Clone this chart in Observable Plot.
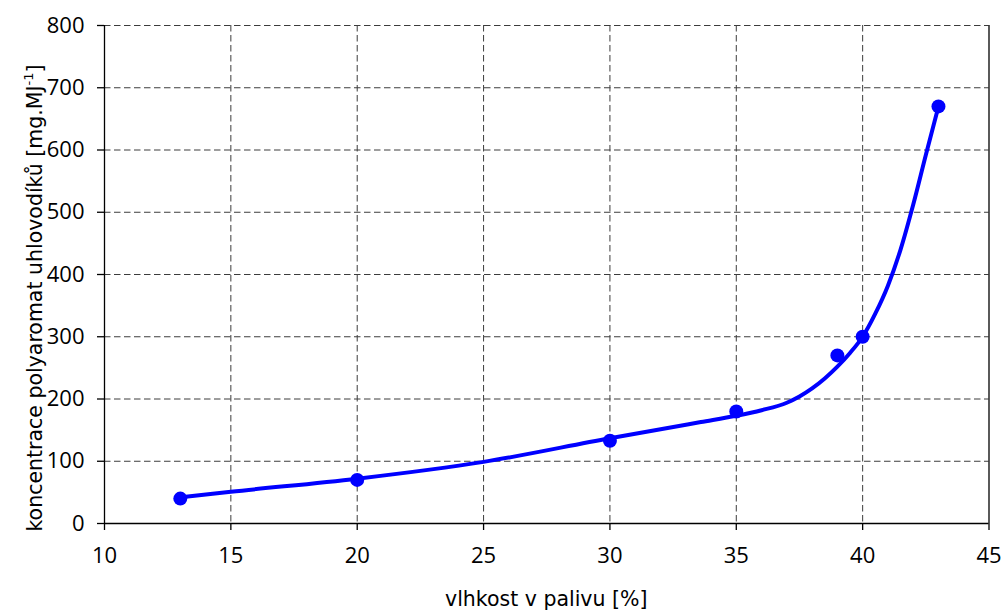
<!DOCTYPE html>
<html><head><meta charset="utf-8">
<script src="https://cdn.jsdelivr.net/npm/d3@7"></script>
<script src="https://cdn.jsdelivr.net/npm/@observablehq/plot@0.6"></script>
<style>body{margin:0;background:#fff}</style>
</head><body><div id="chart"></div>
<script>
// measured points
const moisture = [13, 20, 30, 35, 39, 40, 43];
const concentration = [40, 70, 133, 180, 270, 300, 670];
// smoothed trend curve
const trendX = [13, 15, 20, 25, 30, 33.6, 35, 36, 37, 37.5, 38, 38.5, 39, 39.5, 40, 40.5, 41, 41.5, 42, 42.5, 43];
const trendY = [42, 51, 72, 99, 137, 163, 173, 182, 194, 204, 217, 233, 252, 274, 300, 337, 382, 440, 512, 592, 670];
// tick labels
const xTicks = [10, 15, 20, 25, 30, 35, 40, 45];
const yTicks = [0, 100, 200, 300, 400, 500, 600, 700, 800];
// titles
const xTitle = "vlhkost v palivu [%]";
const yTitleMain = "koncentrace polyaromat uhlovodíků [mg.MJ";
const yTitleSup = "-1";
const yTitleEnd = "]";

const points = moisture.map((x, i) => ({x, y: concentration[i]}));
const trend = trendX.map((x, i) => ({x, y: trendY[i]}));

const font = "'Open Sans', 'Noto Sans', sans-serif";
const titleFont = "'DejaVu Sans', sans-serif";
const gridStyle = {stroke: "#3c3c3c", strokeOpacity: 1, strokeDasharray: "6.5,3.5", strokeWidth: 1};

const chart = Plot.plot({
  width: 1003,
  height: 612,
  marginLeft: 104,
  marginRight: 14.5,
  marginTop: 25,
  marginBottom: 89,
  style: {fontFamily: font, fontSize: "22px", color: "#000", background: "#fff", overflow: "visible"},
  x: {domain: [10, 45], label: null},
  y: {domain: [0, 800], label: null},
  marks: [
    Plot.gridX(xTicks.filter(t => t > 10 && t < 45), gridStyle),
    Plot.gridY(yTicks.filter(t => t > 0), gridStyle),
    Plot.ruleX([10, 45], {stroke: "#000", strokeWidth: 1.3}),
    Plot.ruleY([0], {stroke: "#000", strokeWidth: 1.3}),
    Plot.axisX(xTicks, {tickSize: 7, tickPadding: 17, label: null, stroke: "#000", strokeWidth: 1.3}),
    Plot.axisY(yTicks, {tickSize: 7, tickPadding: 13, label: null, stroke: "#000", strokeWidth: 1.3}),
    Plot.line(trend, {x: "x", y: "y", curve: "monotone-x", stroke: "#0000ff", strokeWidth: 4}),
    Plot.dot(points, {x: "x", y: "y", r: 7, fill: "#0000ff"})
  ]
});

const svg = d3.select(chart);
const xr = chart.scale("x").range;
const yr = chart.scale("y").range;
svg.append("text")
  .attr("x", (xr[0] + xr[1]) / 2)
  .attr("y", 606)
  .attr("text-anchor", "middle")
  .attr("font-family", titleFont)
  .attr("font-size", 20.5)
  .attr("fill", "#000")
  .text(xTitle);

const yt = svg.append("text")
  .attr("transform", `translate(42,${(yr[0] + yr[1]) / 2 + 24}) rotate(-90)`)
  .attr("text-anchor", "middle")
  .attr("font-family", titleFont)
  .attr("font-size", 20.5)
  .attr("fill", "#000");
yt.append("tspan").text(yTitleMain);
yt.append("tspan").attr("dy", -9).attr("font-size", 13).text(yTitleSup);
yt.append("tspan").attr("dy", 9).text(yTitleEnd);

document.getElementById("chart").appendChild(chart);
</script>
</body></html>
